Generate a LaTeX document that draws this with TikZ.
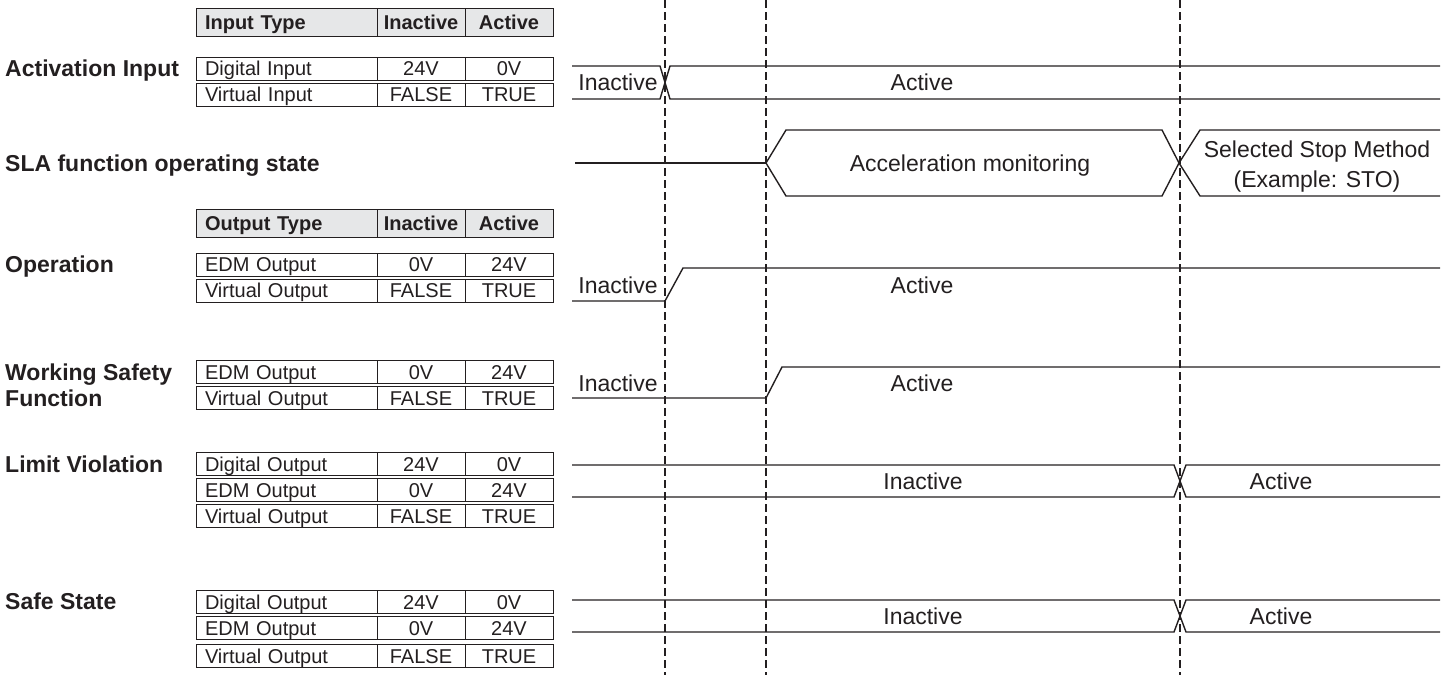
\documentclass[tikz,border=0pt]{standalone}
\usepackage{fontspec}
\setmainfont{Liberation Sans}

\definecolor{ink}{HTML}{231F20}
\definecolor{headgray}{HTML}{E6E7E8}

\tikzset{
  cell/.style={draw=ink, line width=0.9pt, minimum height=23pt, inner ysep=0pt,
    text=ink, text height=14pt, text depth=0pt, font=\fontsize{20}{24}\selectfont},
  typecell/.style={cell, inner xsep=9pt, text width=163pt, align=left},
  valcell/.style={cell, inner xsep=0pt, minimum width=88pt},
  headrow/.style={fill=headgray, minimum height=28pt, font=\fontsize{20}{24}\selectfont\bfseries},
  rowlabel/.style={anchor=west, inner sep=0pt, text=ink, text height=16.5pt, text depth=0pt,
    font=\fontsize{23}{27}\selectfont\bfseries},
  sigtext/.style={inner sep=0pt, text=ink, text height=16.5pt, text depth=0pt,
    font=\fontsize{23}{28}\selectfont},
  sig/.style={draw=ink, line width=1.4pt, line join=miter},
  guide/.style={draw=ink, line width=1.2pt, dash pattern=on 8pt off 4pt}
}

\begin{document}
\begin{tikzpicture}[x=1pt, y=-1pt]

  \useasboundingbox (0,0) rectangle (1447,675);

  % --- Guides ---
  \foreach \x in {665,766,1180} {
    \draw[guide] (\x,0) -- (\x,675);
  }

  % --- Row labels ---
  \node[rowlabel] (lblact)  at (5,68.5) {Activation Input};
  \node[rowlabel] (lblsla)  at (5,163)  {SLA function operating state};
  \node[rowlabel] (lblop)   at (5,264.5) {Operation};
  \node[rowlabel] (lblws)   at (5,372)  {Working Safety};
  \node[rowlabel] (lblwsb)  at (5,398)  {Function};
  \node[rowlabel] (lbllv)   at (5,464)  {Limit Violation};
  \node[rowlabel] (lblss)   at (5,601)  {Safe State};

  % --- Table headers ---
  \foreach \nm/\y/\typ in {hin/22.5/Input Type, hout/223.5/Output Type} {
    \node[typecell, headrow] (\nm t) at (286.5,\y) {\typ};
    \node[valcell, headrow]  (\nm i) at (421,\y) {Inactive};
    \node[valcell, headrow]  (\nm a) at (509,\y) {Active};
  }

  % --- Table rows ---
  \foreach \nm/\y/\typ/\off/\on in {
      ai1/68.5/Digital Input/24V/0V, ai2/94.5/Virtual Input/FALSE/TRUE,
      op1/264.5/EDM Output/0V/24V, op2/290.5/Virtual Output/FALSE/TRUE,
      ws1/372/EDM Output/0V/24V, ws2/398/Virtual Output/FALSE/TRUE,
      lv1/464/Digital Output/24V/0V, lv2/490/EDM Output/0V/24V,
      lv3/516/Virtual Output/FALSE/TRUE,
      ss1/602/Digital Output/24V/0V, ss2/628/EDM Output/0V/24V,
      ss3/656/Virtual Output/FALSE/TRUE} {
    \node[typecell] (\nm t) at (286.5,\y) {\typ};
    \node[valcell]  (\nm i) at (421,\y) {\off};
    \node[valcell]  (\nm a) at (509,\y) {\on};
  }

  % --- Activation input ---
  \draw[sig] (572,66) -- (660,66) -- (670,99) -- (1440,99);
  \draw[sig] (572,99) -- (660,99) -- (670,66) -- (1440,66);
  \node[sigtext] (actoff) at (618,82.5) {Inactive};
  \node[sigtext] (acton)  at (922,82.5) {Active};

  % --- SLA state ---
  \draw[sig] (575,163) -- (766,163);
  \draw[sig] (766,163) -- (786,130) -- (1162,130) -- (1179,163)
    -- (1162,196) -- (786,196) -- cycle;
  \draw[sig] (1440,130) -- (1200,130) -- (1179,163) -- (1200,196) -- (1440,196);
  \node[sigtext] (slamon)  at (970,163)  {Acceleration monitoring};
  \node[sigtext] (slastop) at (1317,149) {Selected Stop Method};
  \node[sigtext] (slaex)   at (1317,179) {(Example: STO)};

  % --- Operation ---
  \draw[sig] (572,301) -- (665,301) -- (683,268) -- (1440,268);
  \node[sigtext] (opoff) at (618,285) {Inactive};
  \node[sigtext] (opon)  at (922,285) {Active};

  % --- Working safety function ---
  \draw[sig] (572,398) -- (766,398) -- (782,367) -- (1440,367);
  \node[sigtext] (wsoff) at (618,383) {Inactive};
  \node[sigtext] (wson)  at (922,383) {Active};

  % --- Limit violation ---
  \draw[sig] (572,465) -- (1174,465) -- (1186,497) -- (1440,497);
  \draw[sig] (572,497) -- (1174,497) -- (1186,465) -- (1440,465);
  \node[sigtext] (lvoff) at (923,481) {Inactive};
  \node[sigtext] (lvon)  at (1281,481) {Active};

  % --- Safe state ---
  \draw[sig] (572,600) -- (1174,600) -- (1186,632) -- (1440,632);
  \draw[sig] (572,632) -- (1174,632) -- (1186,600) -- (1440,600);
  \node[sigtext] (ssoff) at (923,616) {Inactive};
  \node[sigtext] (sson)  at (1281,616) {Active};

\end{tikzpicture}
\end{document}
